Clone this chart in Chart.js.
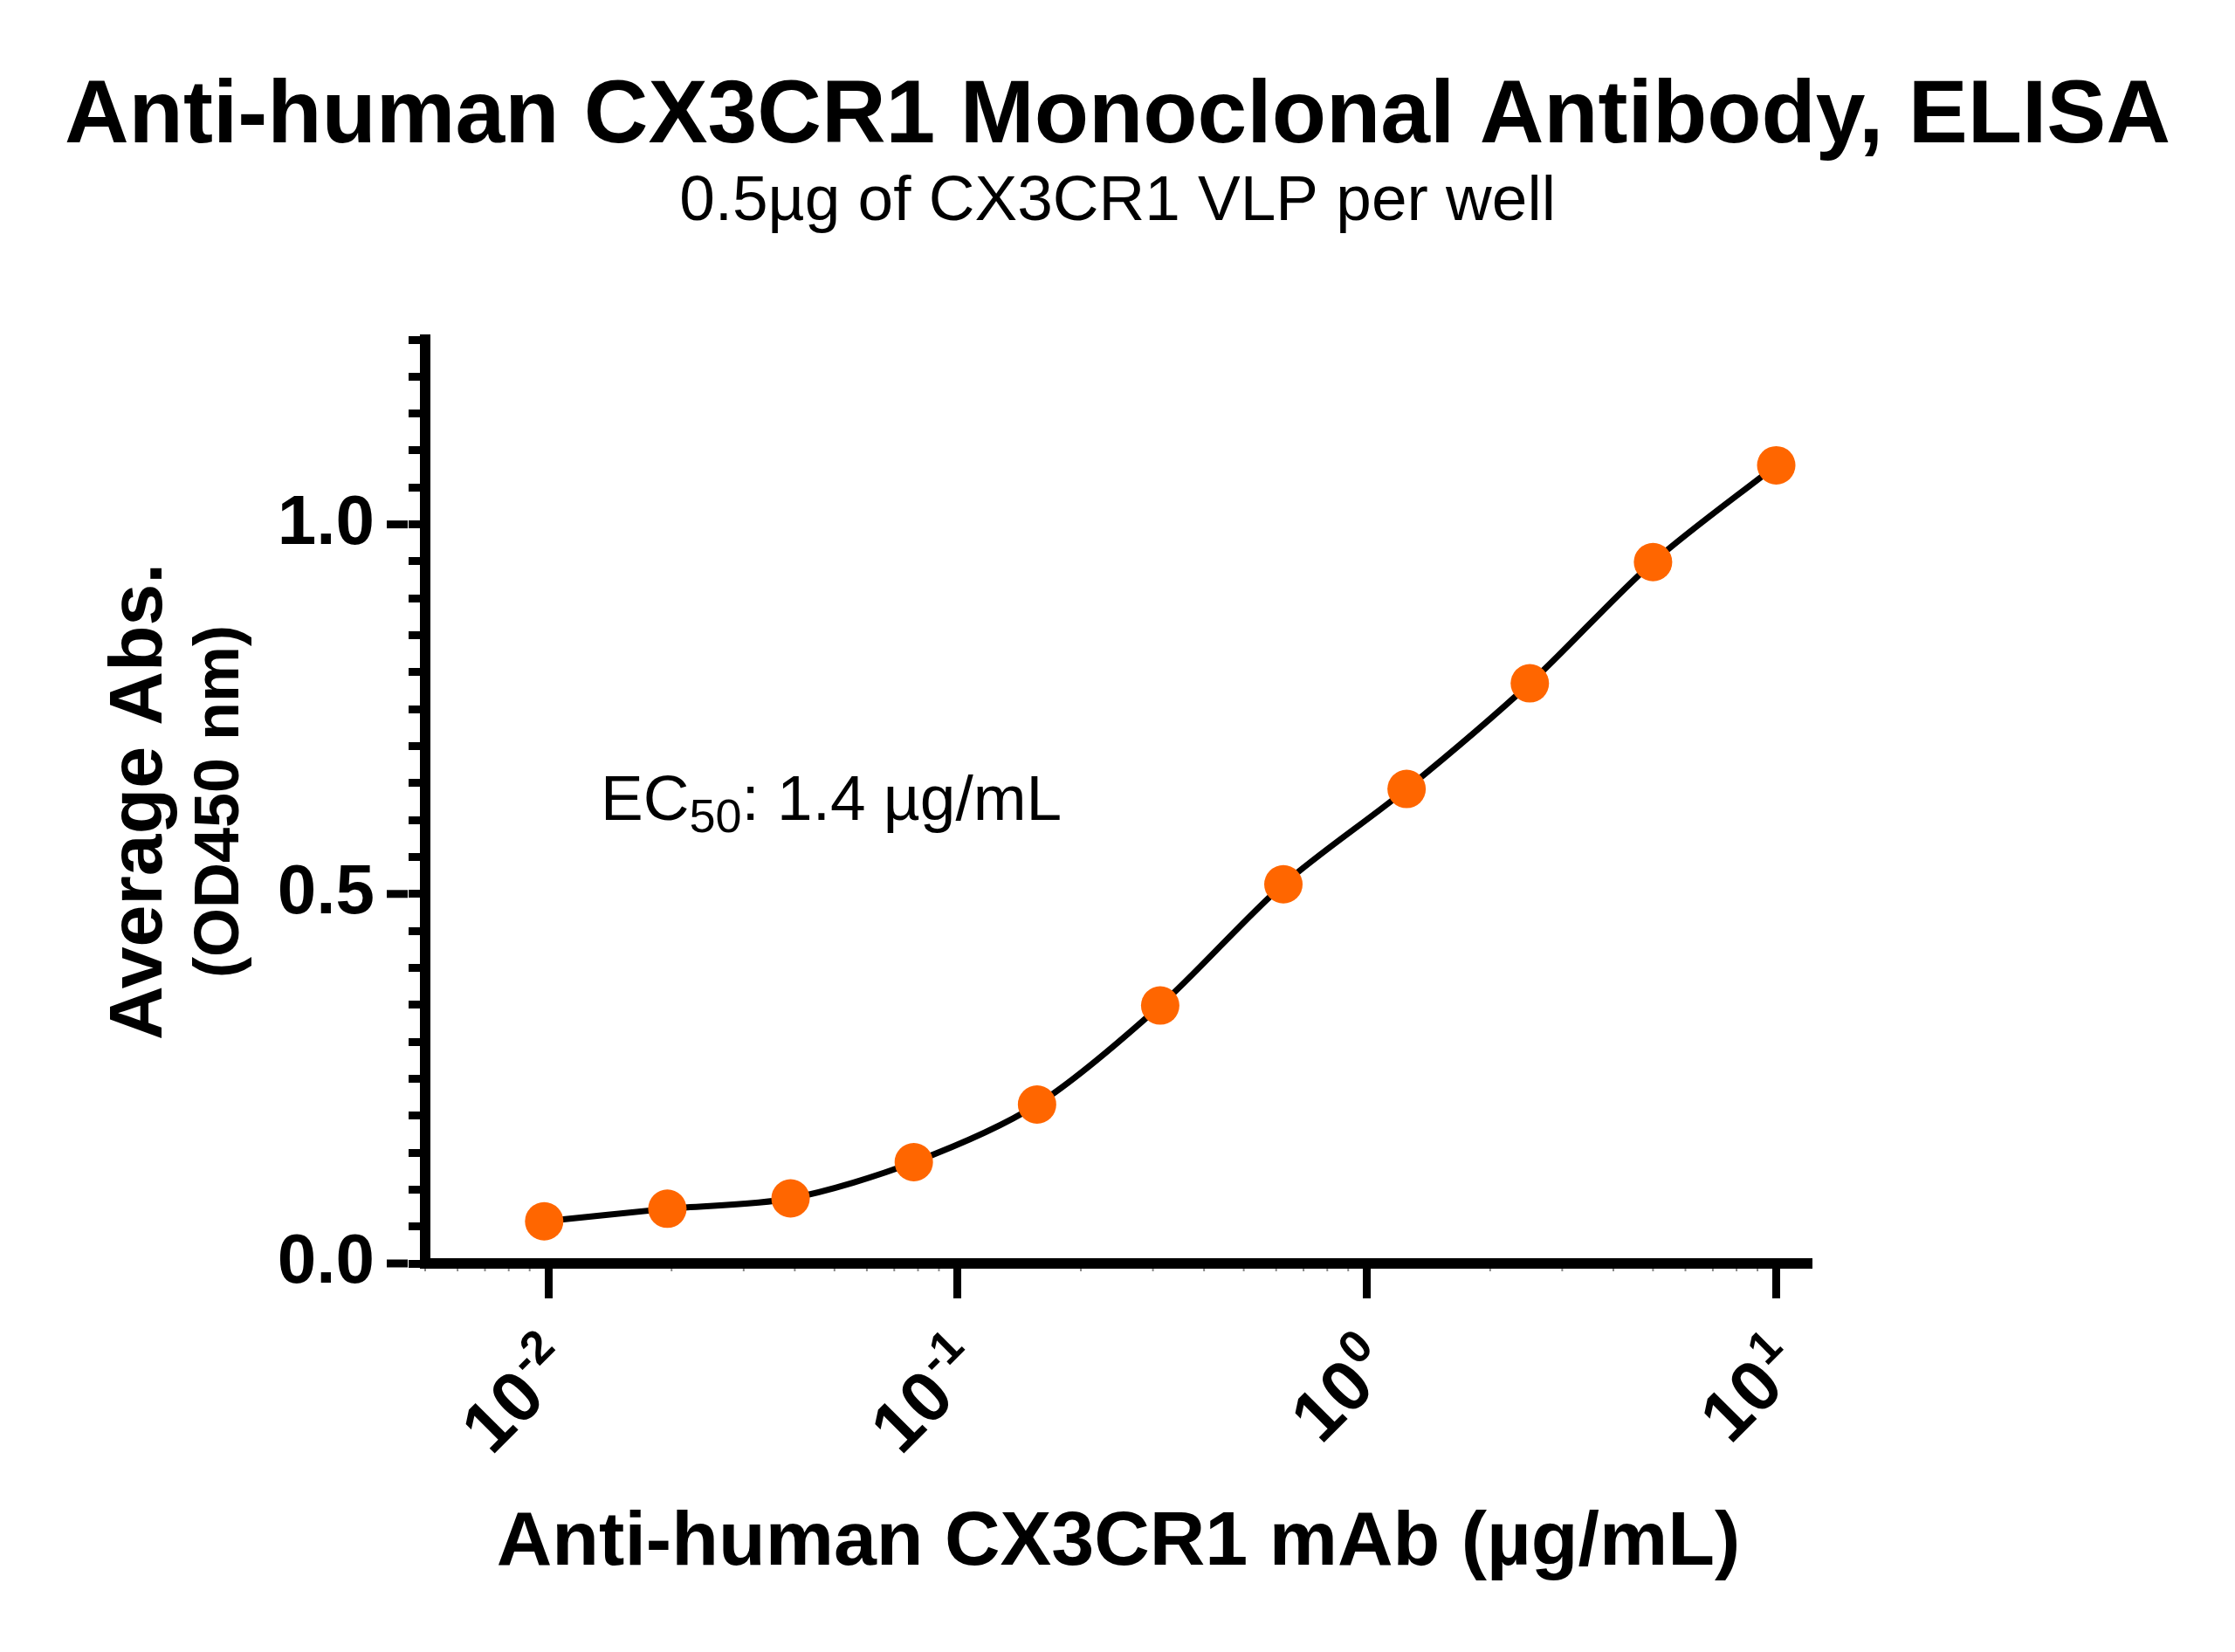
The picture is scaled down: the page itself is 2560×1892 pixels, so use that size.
<!DOCTYPE html>
<html>
<head>
<meta charset="utf-8">
<title>Anti-human CX3CR1 Monoclonal Antibody, ELISA</title>
<script src="https://cdn.jsdelivr.net/npm/chart.js@4.4.1/dist/chart.umd.min.js"></script>
<style>
  html, body { margin: 0; padding: 0; background: #fff; }
  #chart { display: block; }
</style>
</head>
<body>
<canvas id="chart" width="2560" height="1892"></canvas>
<script>
// ---- data ----
const concentrations = [0.009766, 0.01953, 0.03906, 0.07813, 0.1563, 0.3125, 0.625, 1.25, 2.5, 5, 10];
const avgAbs = [0.057, 0.074, 0.088, 0.137, 0.215, 0.349, 0.513, 0.642, 0.785, 0.949, 1.080];

const xTickValues = [0.01, 0.1, 1, 10];
const xTickExponents = ['-2', '-1', '0', '1'];
const yMajorTicks = [0, 0.5, 1.0];
const yMinorStep = 0.05;

const FONT = "'Liberation Sans', Arial, Helvetica, sans-serif";
const ORANGE = '#FF6600';

// EC50 note, anchored in data units
const ec50Note = { x: 0.01342, y: 0.6, text: 'EC', sub: '50', rest: ': 1.4 \u00b5g/mL' };

const decor = {
    id: 'decor',
    afterDraw(chart) {
        const { ctx, chartArea, scales } = chart;
        const xs = scales.x, ys = scales.y;
        ctx.save();
        ctx.fillStyle = '#000';
        ctx.strokeStyle = '#000';

        // longer marks for the labelled y ticks
        ctx.lineWidth = 9;
        yMajorTicks.forEach(v => {
            const py = ys.getPixelForValue(v);
            ctx.beginPath();
            ctx.moveTo(chartArea.left - 20, py);
            ctx.lineTo(chartArea.left - 44, py);
            ctx.stroke();
        });

        // small minor marks on the log axis
        ctx.lineWidth = 2;
        ctx.strokeStyle = '#888';
        for (let d = -3; d <= 1; d++) {
            for (let k = 2; k <= 9; k++) {
                const v = k * Math.pow(10, d);
                if (v < xs.min || v > xs.max) continue;
                const px = xs.getPixelForValue(v);
                ctx.beginPath();
                ctx.moveTo(px, chartArea.bottom + 6);
                ctx.lineTo(px, chartArea.bottom + 9);
                ctx.stroke();
            }
        }

        // x tick labels: 10 with superscript exponent, rotated 45 deg
        const baseSize = 82, expSize = 53;
        xTickValues.forEach((v, i) => {
            const px = xs.getPixelForValue(v);
            ctx.save();
            ctx.translate(px + 34, chartArea.bottom + 122);
            ctx.rotate(-Math.PI / 4);
            ctx.textAlign = 'right';
            ctx.textBaseline = 'alphabetic';
            ctx.font = `bold ${expSize}px ${FONT}`;
            const ew = ctx.measureText(xTickExponents[i]).width;
            ctx.fillText(xTickExponents[i], 0, -baseSize * 0.42);
            ctx.font = `bold ${baseSize}px ${FONT}`;
            ctx.fillText('10', -ew - 2, 0);
            ctx.restore();
        });

        // y axis title, two lines of different size
        const midY = (chartArea.top + chartArea.bottom) / 2;
        ctx.textAlign = 'center';
        ctx.textBaseline = 'alphabetic';
        ctx.save();
        ctx.translate(185, midY);
        ctx.rotate(-Math.PI / 2);
        ctx.font = `bold 86px ${FONT}`;
        ctx.fillText('Average Abs.', 0, 0);
        ctx.restore();
        ctx.save();
        ctx.translate(273, midY);
        ctx.rotate(-Math.PI / 2);
        ctx.font = `bold 72px ${FONT}`;
        ctx.fillText('(OD450 nm)', 0, 0);
        ctx.restore();

        // EC50 annotation with subscript
        let tx = xs.getPixelForValue(ec50Note.x);
        const ty = ys.getPixelForValue(ec50Note.y);
        ctx.textAlign = 'left';
        ctx.font = `73px ${FONT}`;
        ctx.fillText(ec50Note.text, tx, ty);
        tx += ctx.measureText(ec50Note.text).width;
        ctx.font = `54px ${FONT}`;
        ctx.fillText(ec50Note.sub, tx, ty + 14);
        tx += ctx.measureText(ec50Note.sub).width;
        ctx.font = `73px ${FONT}`;
        ctx.fillText(ec50Note.rest, tx, ty);

        ctx.restore();
    }
};

new Chart(document.getElementById('chart'), {
    type: 'scatter',
    data: {
        datasets: [{
            data: concentrations.map((c, i) => ({ x: c, y: avgAbs[i] })),
            showLine: true,
            borderColor: '#000',
            borderWidth: 7,
            tension: 0.3,
            pointRadius: 22,
            pointHoverRadius: 22,
            pointBackgroundColor: ORANGE,
            pointBorderWidth: 0,
            clip: false
        }]
    },
    options: {
        responsive: false,
        devicePixelRatio: 1,
        animation: false,
        layout: { padding: 0 },
        plugins: {
            legend: { display: false },
            tooltip: { enabled: false },
            title: {
                display: true,
                text: 'Anti-human CX3CR1 Monoclonal Antibody, ELISA',
                color: '#000',
                font: { family: FONT, size: 102, weight: 'bold', lineHeight: 1 },
                padding: { top: 84, bottom: 0 }
            },
            subtitle: {
                display: true,
                text: '0.5\u00b5g of CX3CR1 VLP per well',
                color: '#000',
                font: { family: FONT, size: 73, weight: 'normal', lineHeight: 1 },
                padding: { top: 9, bottom: 121 }
            }
        },
        scales: {
            x: {
                type: 'logarithmic',
                min: 0.005,
                max: 12.2,
                afterBuildTicks: s => { s.ticks = xTickValues.map(v => ({ value: v })); },
                afterFit: s => { s.height = 445; },
                ticks: { display: false, autoSkip: false },
                grid: { drawOnChartArea: false, tickLength: 40, tickWidth: 9, tickColor: '#000' },
                border: { color: '#000', width: 12 },
                title: {
                    display: true,
                    text: 'Anti-human CX3CR1 mAb (\u00b5g/mL)',
                    color: '#000',
                    font: { family: FONT, size: 88, weight: 'bold', lineHeight: 1 },
                    padding: { top: 0, bottom: 80 }
                }
            },
            y: {
                type: 'linear',
                min: 0,
                max: 1.25,
                afterBuildTicks: s => {
                    const t = [];
                    for (let i = 0; i * yMinorStep <= 1.25 + 1e-9; i++) t.push({ value: +(i * yMinorStep).toFixed(2) });
                    s.ticks = t;
                },
                afterFit: s => { s.width = 487; },
                ticks: {
                    autoSkip: false,
                    color: '#000',
                    padding: 39,
                    font: { family: FONT, size: 80, weight: 'bold' },
                    callback: v => yMajorTicks.some(m => Math.abs(m - v) < 1e-9) ? v.toFixed(1) : ''
                },
                grid: { drawOnChartArea: false, tickLength: 19, tickWidth: 9, tickColor: '#000' },
                border: { color: '#000', width: 12 }
            },
            yRight: {
                type: 'linear',
                position: 'right',
                display: true,
                afterFit: s => { s.width = 485; },
                ticks: { display: false },
                grid: { display: false },
                border: { display: false }
            }
        }
    },
    plugins: [decor]
});
</script>
</body>
</html>
